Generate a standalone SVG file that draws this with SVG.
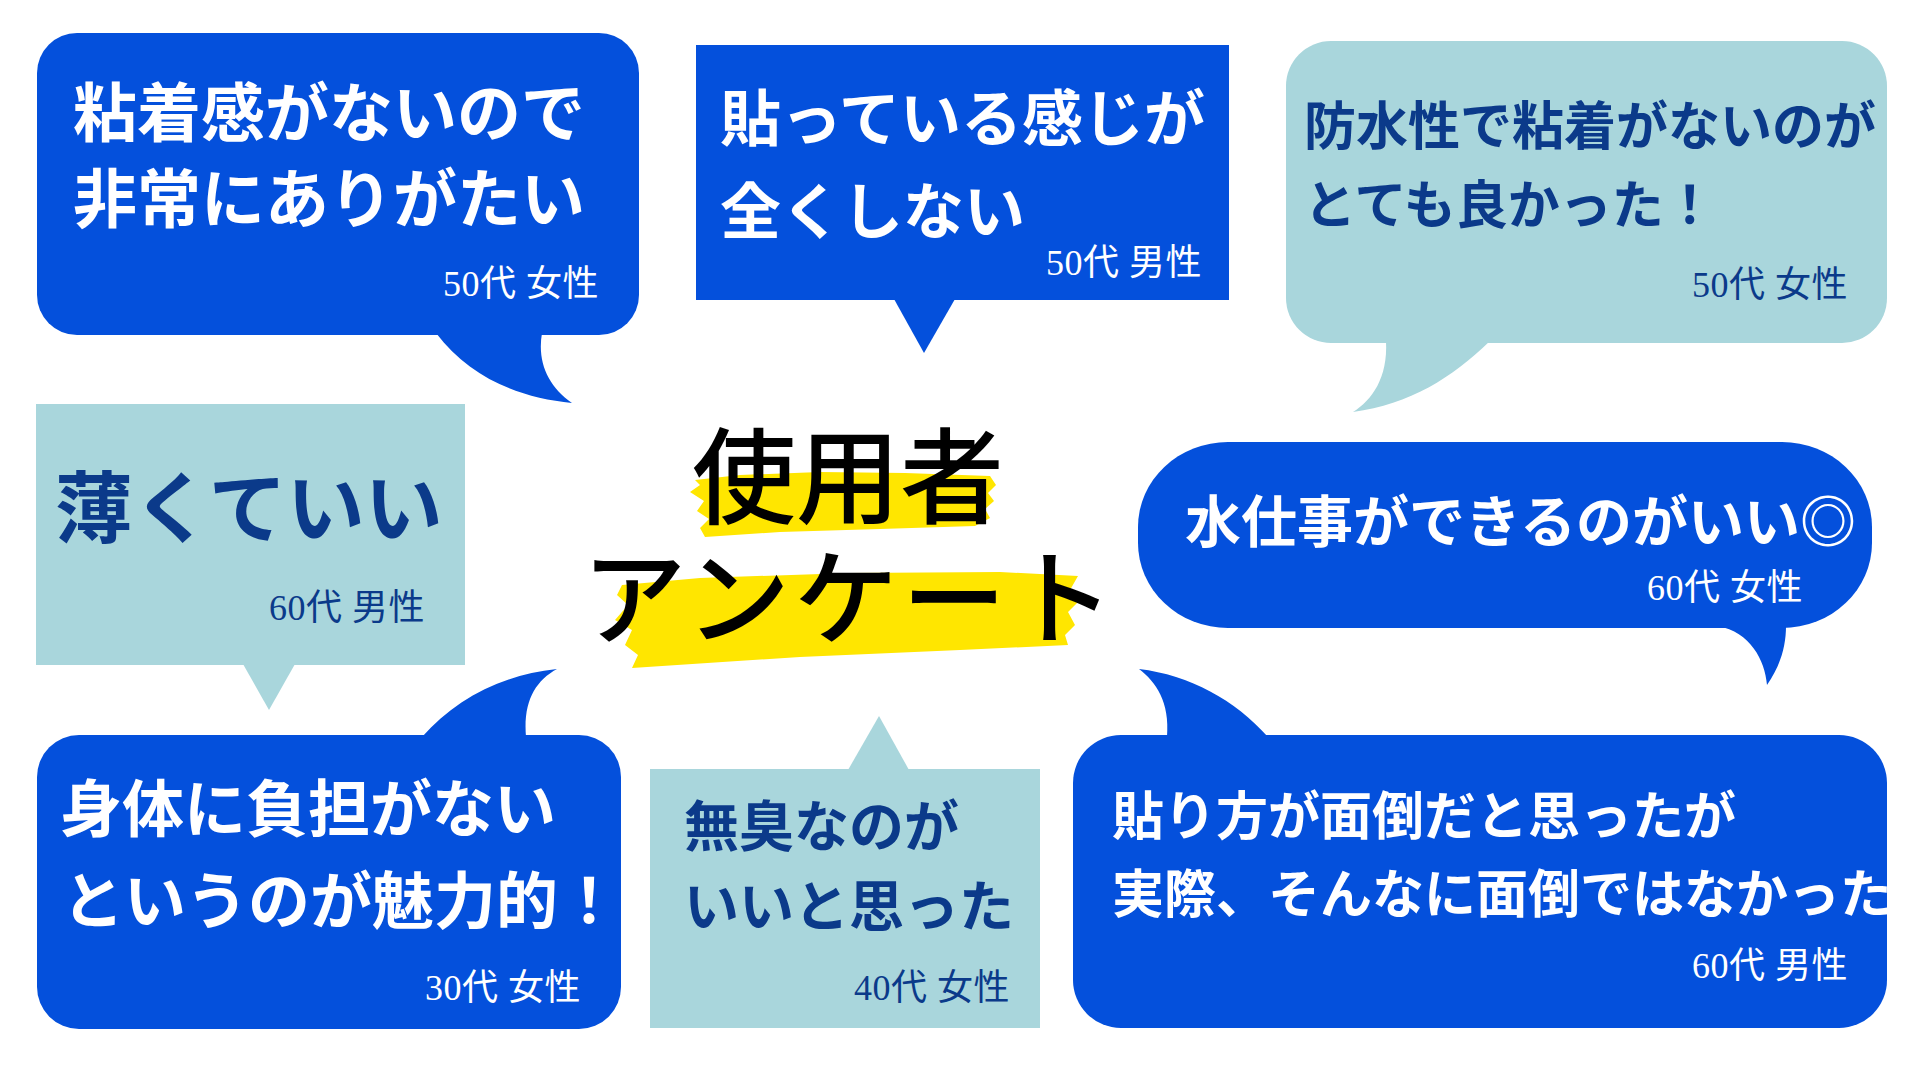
<svg xmlns="http://www.w3.org/2000/svg" width="1920" height="1080" viewBox="0 0 1920 1080">
<style>
.blue{fill:#0450DC}
.light{fill:#A9D6DC}
.hl{fill:#FFE600}
.mw{font-family:"Noto Sans CJK JP",sans-serif;font-weight:700;fill:#FFFFFF}
.md{font-family:"Noto Sans CJK JP",sans-serif;font-weight:700;fill:#0B3A8A}
.aw{font-family:"Liberation Serif","Noto Sans CJK JP",serif;font-size:36px;letter-spacing:0.5px;fill:#FFFFFF;text-anchor:end}
.ad{font-family:"Liberation Serif","Noto Sans CJK JP",serif;font-size:36px;letter-spacing:0.5px;fill:#0B3A8A;text-anchor:end}
.title{font-family:"Noto Sans CJK JP",sans-serif;font-weight:500;font-size:104px;fill:#000000;text-anchor:middle}
</style>
<rect width="1920" height="1080" fill="#FFFFFF"/>
<g id="connectors"></g>
<g id="title">
<path class="hl" d="M695,480 L740,475 L820,472 L905,473 L990,476 L996,485 L988,493 L994,501 L985,509 L990,518 L975,526 L880,529 L780,532 L705,537 L700,528 L709,519 L697,511 L704,501 L690,492 L700,485 Z"/>
<path class="hl" d="M622,585 L700,578 L850,573 L1000,572 L1078,576 L1070,590 L1080,600 L1068,612 L1075,625 L1065,635 L1068,645 L960,650 L800,657 L632,668 L638,655 L625,645 L632,630 L615,620 L628,605 L617,595 Z"/>
<text class="title"><tspan x="848" y="516">使用者</tspan><tspan x="850" y="637" letter-spacing="4">アンケート</tspan></text>
</g>
<g id="bubble1">
<rect class="blue" x="37" y="33" width="602" height="302" rx="40"/>
<path class="blue" d="M436,333 C470,378 520,398 572,403 C548,386 537,362 542,333 Z"/>
<text class="mw" font-size="64" x="73" y="136">粘着感がないので</text>
<text class="mw" font-size="64" x="73" y="222">非常にありがたい</text>
<text class="aw" x="599" y="296">50代 女性</text>
</g>
<g id="bubble2">
<rect class="blue" x="696" y="45" width="533" height="255"/>
<path class="blue" d="M894,299 L955,299 L924,353 Z"/>
<text class="mw" font-size="61" x="720" y="141">貼っている感じが</text>
<text class="mw" font-size="61" x="720" y="234">全くしない</text>
<text class="aw" x="1202" y="275">50代 男性</text>
</g>
<g id="bubble3">
<rect class="light" x="1286" y="41" width="601" height="302" rx="45"/>
<path class="light" d="M1386,341 C1388,378 1372,400 1353,412 C1410,404 1452,378 1490,341 Z"/>
<text class="md" font-size="52" x="1304" y="145">防水性で粘着がないのが</text>
<text class="md" font-size="52" x="1304" y="224">とても良かった！</text>
<text class="ad" x="1848" y="297">50代 女性</text>
</g>
<g id="bubble4">
<rect class="light" x="36" y="404" width="429" height="261"/>
<path class="light" d="M243,664 L295,664 L269,710 Z"/>
<text class="md" font-size="78" x="55" y="537">薄くていい</text>
<text class="ad" x="425" y="620">60代 男性</text>
</g>
<g id="bubble5">
<rect class="blue" x="1138" y="442" width="734" height="186" rx="90" ry="85"/>
<path class="blue" d="M1718,626 C1750,632 1765,660 1767,685 C1781,665 1786,645 1786,626 Z"/>
<text class="mw" font-size="56" x="1185" y="542">水仕事ができるのがいい◎</text>
<text class="aw" x="1803" y="600">60代 女性</text>
</g>
<g id="bubble6">
<rect class="blue" x="37" y="735" width="584" height="294" rx="42"/>
<path class="blue" d="M422,737 C455,700 500,675 557,669 C535,681 523,702 526,737 Z"/>
<text class="mw" font-size="62" x="60" y="832">身体に負担がない</text>
<text class="mw" font-size="62" x="62" y="924">というのが魅力的！</text>
<text class="aw" x="581" y="1000">30代 女性</text>
</g>
<g id="bubble7">
<rect class="light" x="650" y="769" width="390" height="259"/>
<path class="light" d="M848,770 L909,770 L879,716 Z"/>
<text class="md" font-size="55" x="684" y="846">無臭なのが</text>
<text class="md" font-size="55" x="684" y="926">いいと思った</text>
<text class="ad" x="1010" y="1000">40代 女性</text>
</g>
<g id="bubble8">
<rect class="blue" x="1073" y="735" width="814" height="293" rx="48"/>
<path class="blue" d="M1167,737 C1170,702 1156,682 1139,669 C1190,675 1235,700 1268,737 Z"/>
<text class="mw" font-size="52" x="1112" y="835">貼り方が面倒だと思ったが</text>
<text class="mw" font-size="52" x="1112" y="913">実際、そんなに面倒ではなかった</text>
<text class="aw" x="1848" y="978">60代 男性</text>
</g>
</svg>
